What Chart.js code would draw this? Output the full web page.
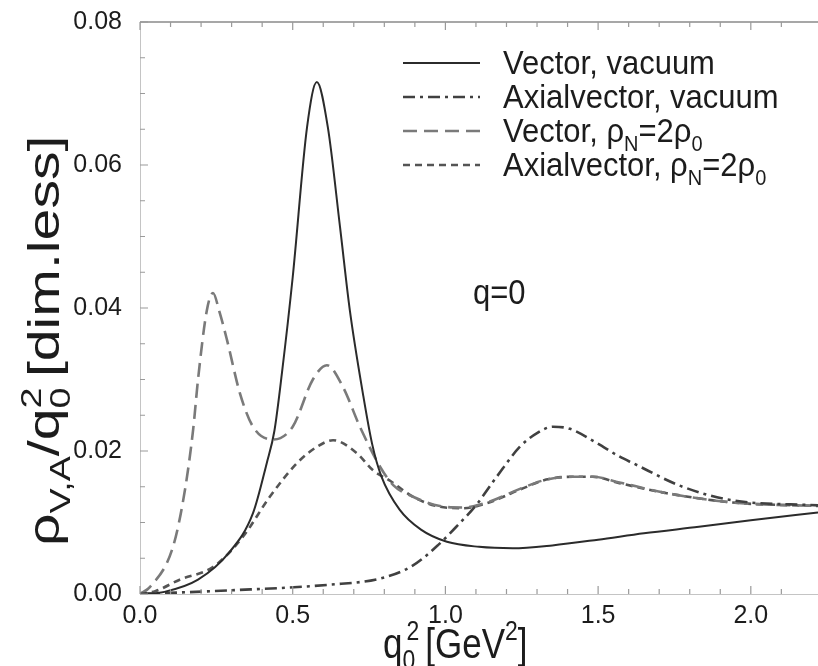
<!DOCTYPE html>
<html>
<head>
<meta charset="utf-8">
<script src="https://cdn.jsdelivr.net/npm/chart.js@4.4.1/dist/chart.umd.min.js"></script>
<style>
  html, body { margin: 0; padding: 0; background: #fff; }
  #wrap { width: 818px; height: 666px; position: relative; }
</style>
</head>
<body>
<div id="wrap"><canvas id="c" width="818" height="666"></canvas></div>
<script>
// Spectral functions rho_{V,A}/q0^2 at q = 0, versus q0^2 [GeV^2]

const vecVacX = [0.00, 0.08, 0.19, 0.29, 0.37, 0.415, 0.44, 0.465, 0.50, 0.547, 0.579, 0.615, 0.655, 0.687, 0.73, 0.76, 0.79, 0.85, 0.92, 1.005, 1.11, 1.22, 1.35, 1.50, 1.65, 1.83, 2.00, 2.22];
const vecVacY = [0.0000, 0.0003, 0.0020, 0.0057, 0.0113, 0.0183, 0.0228, 0.0310, 0.0443, 0.0653, 0.0716, 0.0653, 0.0513, 0.0397, 0.0280, 0.0210, 0.0165, 0.0118, 0.0090, 0.0073, 0.0066, 0.0064, 0.0068, 0.0076, 0.0085, 0.0094, 0.0103, 0.0114];

const axVacX = [0.00, 0.29, 0.62, 0.79, 0.894, 0.975, 1.04, 1.10, 1.168, 1.244, 1.30, 1.352, 1.408, 1.496, 1.571, 1.614, 1.777, 1.94, 2.22];
const axVacY = [0.0000, 0.0005, 0.0013, 0.0022, 0.0040, 0.0068, 0.0096, 0.0124, 0.0164, 0.0206, 0.0225, 0.0234, 0.0231, 0.0211, 0.0192, 0.0183, 0.0150, 0.0131, 0.0124];

const vecMedX = [0.00, 0.033, 0.108, 0.147, 0.174, 0.19, 0.219, 0.239, 0.26, 0.285, 0.327, 0.37, 0.436, 0.50, 0.566, 0.612, 0.664, 0.72, 0.786, 0.83, 0.894, 0.982, 1.057, 1.136, 1.244, 1.33, 1.418, 1.483, 1.57, 1.725, 1.94, 2.22];
const vecMedY = [0.0000, 0.0010, 0.0066, 0.0145, 0.0230, 0.0300, 0.0397, 0.0421, 0.0395, 0.0355, 0.0281, 0.0234, 0.0216, 0.0234, 0.0300, 0.0320, 0.0290, 0.0234, 0.0178, 0.0152, 0.0136, 0.0123, 0.0121, 0.0128, 0.0147, 0.0160, 0.0164, 0.0164, 0.0156, 0.0141, 0.0128, 0.0123];

const axMedX = [0.00, 0.05, 0.13, 0.24, 0.337, 0.425, 0.514, 0.58, 0.632, 0.71, 0.763, 0.82, 0.894, 0.982, 1.057, 1.136, 1.244, 1.33, 1.418, 1.483, 1.57, 1.725, 1.94, 2.22];
const axMedY = [0.0000, 0.0004, 0.0020, 0.0038, 0.0080, 0.0136, 0.0183, 0.0206, 0.0215, 0.0197, 0.0173, 0.0158, 0.0136, 0.0122, 0.0120, 0.0127, 0.0146, 0.0160, 0.0164, 0.0164, 0.0155, 0.0141, 0.0128, 0.0123];

const xTickLabels = ['0.0', '0.5', '1.0', '1.5', '2.0'];
const yTickLabels = ['0.00', '0.02', '0.04', '0.06', '0.08'];

const FONT = '"Liberation Sans", Arial, Helvetica, sans-serif';
const INK = '#1c1c1c';

const series = [
  { name: [{ t: 'Vector, vacuum' }], xs: vecVacX, ys: vecVacY, color: '#2b2b2b', width: 2, dash: [] },
  { name: [{ t: 'Axialvector, vacuum' }], xs: axVacX, ys: axVacY, color: '#404040', width: 2.6, dash: [12, 5, 3, 5] },
  { name: [{ t: 'Vector, \u03c1' }, { sub: 'N' }, { t: '=2\u03c1' }, { sub: '0' }], xs: vecMedX, ys: vecMedY, color: '#7a7a7a', width: 2.6, dash: [14, 7] },
  { name: [{ t: 'Axialvector, \u03c1' }, { sub: 'N' }, { t: '=2\u03c1' }, { sub: '0' }], xs: axMedX, ys: axMedY, color: '#555555', width: 2.6, dash: [7, 5] }
];

// text with sub/superscript runs, drawn from (x, y) on the baseline
function drawRich(ctx, runs, x, y, size) {
  let cx = x;
  const small = Math.round(size * 0.66);
  for (const r of runs) {
    if (r.t !== undefined) {
      ctx.font = size + 'px ' + FONT;
      ctx.fillText(r.t, cx, y);
      cx += ctx.measureText(r.t).width;
    } else {
      ctx.font = small + 'px ' + FONT;
      let w = 0;
      if (r.sub !== undefined) {
        ctx.fillText(r.sub, cx, y + size * 0.26);
        w = Math.max(w, ctx.measureText(r.sub).width);
      }
      if (r.sup !== undefined) {
        const sx = cx + (r.supShift || 0);
        ctx.fillText(r.sup, sx, y - size * 0.42);
        w = Math.max(w, ctx.measureText(r.sup).width + (r.supShift || 0));
      }
      cx += w + (r.gap || 0);
    }
  }
  return cx - x;
}

// same, with the glyphs stretched by (sx, sy) around the start point
function drawRichScaled(ctx, runs, x, y, size, sx, sy, angle) {
  ctx.save();
  ctx.translate(x, y);
  if (angle) ctx.rotate(angle);
  ctx.scale(sx, sy);
  drawRich(ctx, runs, 0, 0, size);
  ctx.restore();
}

const decorations = {
  id: 'decorations',
  afterDraw(chart) {
    const ctx = chart.ctx;
    const a = chart.chartArea;
    const xs = chart.scales.x, ys = chart.scales.y;
    ctx.save();

    // top frame line
    ctx.strokeStyle = '#8a8a8a';
    ctx.lineWidth = 1.5;
    ctx.beginPath();
    ctx.moveTo(a.left, a.top);
    ctx.lineTo(a.right, a.top);
    ctx.stroke();

    // inward tick marks
    ctx.strokeStyle = '#9a9a9a';
    ctx.lineWidth = 1.2;
    ctx.beginPath();
    xs.ticks.forEach(t => {
      const v = t.value;
      if (Math.abs(v * 10 - Math.round(v * 10)) > 1e-6) return;
      const px = xs.getPixelForValue(v);
      const major = Math.abs(v * 2 - Math.round(v * 2)) < 1e-6;
      const len = major ? 8 : 5;
      ctx.moveTo(px, a.bottom); ctx.lineTo(px, a.bottom - len);
      ctx.moveTo(px, a.top); ctx.lineTo(px, a.top + len);
    });
    ys.ticks.forEach(t => {
      const py = ys.getPixelForValue(t.value);
      const major = Math.abs(t.value / 0.02 - Math.round(t.value / 0.02)) < 1e-6;
      const len = major ? 8 : 5;
      ctx.moveTo(a.left, py); ctx.lineTo(a.left + len, py);
    });
    ctx.stroke();

    ctx.fillStyle = INK;
    ctx.textBaseline = 'alphabetic';
    ctx.textAlign = 'left';

    // legend
    const lx0 = 403, lx1 = 480, tx = 503;
    const rows = [63, 97, 131, 165];
    series.forEach((s, i) => {
      const y = rows[i];
      ctx.strokeStyle = s.color;
      ctx.lineWidth = s.width;
      ctx.setLineDash(s.dash);
      ctx.beginPath();
      ctx.moveTo(lx0, y);
      ctx.lineTo(lx1, y);
      ctx.stroke();
      ctx.setLineDash([]);
      ctx.fillStyle = INK;
      drawRichScaled(ctx, s.name, tx, y + 11, 31, 1, 1.08);
    });

    // annotation
    drawRichScaled(ctx, [{ t: 'q=0' }], 473, 304, 31, 1, 1.12);

    // x axis title
    drawRichScaled(ctx, [{ t: 'q' }, { sub: '0', sup: '2', supShift: 4, gap: 6 }, { t: '[GeV' }, { sup: '2' }, { t: ']' }], 383, 658, 35, 1, 1.2);

    // y axis title
    drawRichScaled(ctx, [{ t: '\u03c1' }, { sub: 'V,A' }, { t: '/q' }, { sub: '0', sup: '2', gap: 8 }, { t: '[dim.less]' }], 59, 546, 44, 1.3, 1, -Math.PI / 2);

    ctx.restore();
  }
};

const datasets = series.map(s => ({
  label: s.name.map(r => r.t || r.sub || '').join(''),
  data: s.xs.map((x, i) => ({ x: x, y: s.ys[i] })),
  borderColor: s.color,
  borderWidth: s.width,
  borderDash: s.dash,
  pointRadius: 0,
  fill: false,
  cubicInterpolationMode: 'monotone'
}));

new Chart(document.getElementById('c'), {
  type: 'line',
  data: { datasets: datasets },
  options: {
    responsive: false,
    animation: false,
    devicePixelRatio: 1,
    layout: { padding: { top: 22, right: 0, left: 0, bottom: 0 } },
    plugins: { legend: { display: false }, tooltip: { enabled: false }, title: { display: false } },
    scales: {
      x: {
        type: 'linear',
        min: 0,
        max: 2.22,
        afterFit: sc => { sc.height = 72; sc.paddingLeft = 0; sc.paddingRight = 0; },
        border: { color: '#c4c4c4', width: 1 },
        grid: { drawOnChartArea: false, drawTicks: false },
        ticks: {
          stepSize: 0.1,
          autoSkip: false,
          maxRotation: 0,
          padding: 7,
          color: INK,
          font: { family: FONT, size: 25 },
          callback: v => (Math.abs(v * 2 - Math.round(v * 2)) < 1e-6 ? xTickLabels[Math.round(v * 2)] : '')
        }
      },
      y: {
        min: 0,
        max: 0.08,
        afterFit: sc => { sc.width = 140; sc.paddingTop = 0; sc.paddingBottom = 0; },
        border: { color: '#c4c4c4', width: 1 },
        grid: { drawOnChartArea: false, drawTicks: false },
        ticks: {
          stepSize: 0.005,
          autoSkip: false,
          padding: 18,
          color: INK,
          font: { family: FONT, size: 25 },
          callback: v => (Math.abs(v / 0.02 - Math.round(v / 0.02)) < 1e-6 ? yTickLabels[Math.round(v / 0.02)] : '')
        }
      }
    }
  },
  plugins: [decorations]
});
</script>
</body>
</html>
